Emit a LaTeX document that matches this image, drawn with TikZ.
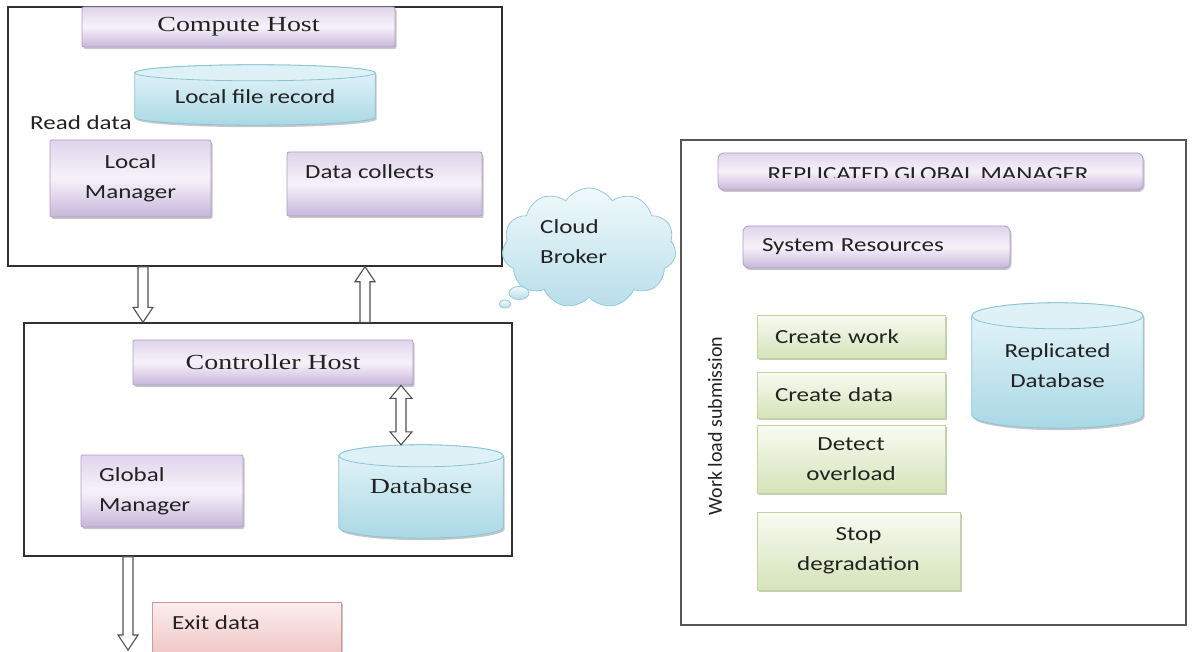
\documentclass[tikz,border=0pt]{standalone}
\usepackage{fontspec}
\setmainfont{Carlito}
\setsansfont{Carlito}[FakeStretch=1.25]
\newfontfamily\titlefont{Liberation Serif}[FakeStretch=1.3]
\newfontfamily\uprightsans{Carlito}
\usetikzlibrary{shapes.geometric,shapes.symbols,shadows,calc}

\definecolor{inkc}{HTML}{222222}
\definecolor{purpTop}{HTML}{E0D5EC}
\definecolor{purpMid}{HTML}{F6F2F9}
\definecolor{purpBot}{HTML}{C8B6DB}
\definecolor{purpLine}{HTML}{B09CC6}
\definecolor{greenTop}{HTML}{F8FBF2}
\definecolor{greenBot}{HTML}{D5E3B9}
\definecolor{greenLine}{HTML}{C2D59A}
\definecolor{pinkTop}{HTML}{FCEEEE}
\definecolor{pinkBot}{HTML}{EFC0C0}
\definecolor{pinkLine}{HTML}{D59898}
\definecolor{cylCap}{HTML}{DDF1F6}
\definecolor{cylBodyTop}{HTML}{E8F6FA}
\definecolor{cylBodyBot}{HTML}{A9D8E5}
\definecolor{cylLine}{HTML}{88C4D6}
\definecolor{cloudTop}{HTML}{F0F9FC}
\definecolor{cloudBot}{HTML}{B8DEEA}
\definecolor{cloudLine}{HTML}{93C9DA}
\definecolor{frameLine}{HTML}{303030}
\definecolor{panelLine}{HTML}{555555}
\definecolor{arrowLine}{HTML}{505050}

% hollow block arrow with one head at the end point
\newcommand\blockarrow[2]{%
  \draw[hollow] let \p1=(#1), \p2=(#2), \n1={sign(\y2-\y1)} in
    (\x1-5pt,\y1) -- (\x1-5pt,{\y2-\n1*15pt}) -- (\x1-10pt,{\y2-\n1*15pt})
    -- (\x1,\y2) -- (\x1+10pt,{\y2-\n1*15pt}) -- (\x1+5pt,{\y2-\n1*15pt})
    -- (\x1+5pt,\y1) -- cycle;}
% hollow block arrow with heads at both ends
\newcommand\twowayarrow[2]{%
  \draw[hollow] let \p1=(#1), \p2=(#2), \n1={sign(\y2-\y1)} in
    (\x1,\y1) -- (\x1+11pt,{\y1+\n1*13pt}) -- (\x1+5pt,{\y1+\n1*13pt})
    -- (\x1+5pt,{\y2-\n1*13pt}) -- (\x1+11pt,{\y2-\n1*13pt}) -- (\x1,\y2)
    -- (\x1-11pt,{\y2-\n1*13pt}) -- (\x1-5pt,{\y2-\n1*13pt})
    -- (\x1-5pt,{\y1+\n1*13pt}) -- (\x1-11pt,{\y1+\n1*13pt}) -- cycle;}
% standing cylinder filling the frame of node #1, with end caps of half height #2
\newcommand\drumshape[2]{%
  \path[cylbody] let \p1=(#1.north west), \p2=(#1.south east) in
    (\x1,\y1-#2) -- (\x1,\y2+#2)
    arc[start angle=180, end angle=360, x radius={(\x2-\x1)/2}, y radius=#2]
    -- (\x2,\y1-#2)
    arc[start angle=0, end angle=180, x radius={(\x2-\x1)/2}, y radius=#2]
    -- cycle;
  \path[draw=cylLine, line width=0.8pt, fill=cylCap] let \p1=(#1.north west), \p2=(#1.north east) in
    ($(\p1)!0.5!(\p2)+(0pt,-#2)$) ellipse [x radius={(\x2-\x1)/2}, y radius=#2];}

\begin{document}
\begin{tikzpicture}[x=1pt,y=-1pt,
  txt/.style={inner sep=0pt, text=inkc, font=\sffamily\fontsize{20}{30}\selectfont},
  titletext/.style={font=\titlefont\fontsize{21.5}{26}\selectfont},
  frame/.style={draw=frameLine, line width=1.4pt, fill=white, inner sep=0pt},
  panel/.style={draw=panelLine, line width=1.2pt, fill=white, inner sep=0pt},
  softshadow/.style={drop shadow={shadow xshift=1.5pt, shadow yshift=-2pt, opacity=0.22, fill=black}},
  purplebox/.style={txt, draw=purpLine, line width=0.8pt, top color=purpTop,
    bottom color=purpBot, middle color=purpMid, rounded corners=2pt, softshadow},
  greenbox/.style={txt, draw=greenLine, line width=0.8pt, top color=greenTop,
    bottom color=greenBot, softshadow},
  pinkbox/.style={txt, draw=pinkLine, line width=0.8pt, top color=pinkTop,
    bottom color=pinkBot, softshadow},
  drumframe/.style={inner sep=0pt},
  cylbody/.style={draw=cylLine, line width=0.8pt, top color=cylBodyTop,
    bottom color=cylBodyBot, softshadow},
  cloudshape/.style={cloud, cloud puffs=11, cloud puff arc=115, draw=cloudLine,
    line width=0.8pt, top color=cloudTop, bottom color=cloudBot, inner sep=0pt},
  bubble/.style={ellipse, draw=cloudLine, line width=0.8pt, top color=cloudTop,
    bottom color=cloudBot, inner sep=0pt},
  hollow/.style={draw=arrowLine, line width=1.1pt, fill=white, line join=miter}
]
\clip (0,0) rectangle (1193,652);
\fill[white] (0,0) rectangle (1193,652);

% ---------- compute host ----------
\node[frame, minimum width=494pt, minimum height=259pt] (compute) at (255,136.5) {};
\node[purplebox, titletext, minimum width=313pt, minimum height=40pt] (computeTitle) at (238.5,27) {Compute Host};
\node[drumframe, minimum width=240pt, minimum height=60pt] (localFile) at (255,95) {};
\drumshape{localFile}{8pt}
\node[txt] (localFileText) at (255,97) {Local file record};
\node[txt, anchor=west] (readData) at (30,123) {Read data};
\node[purplebox, minimum width=161pt, minimum height=77pt, align=center] (localMgr) at (130.5,178.5) {Local\\Manager};
\node[purplebox, minimum width=195pt, minimum height=64pt] (dataCol) at (384.5,184) {};
\node[txt, anchor=west] (dataColText) at (305,172) {Data collects};

% ---------- controller host ----------
\node[frame, minimum width=488pt, minimum height=233pt] (ctrl) at (268,439.5) {};
\node[purplebox, titletext, minimum width=280pt, minimum height=45pt] (ctrlTitle) at (273,362.5) {Controller Host};
\node[drumframe, minimum width=164pt, minimum height=93pt] (db) at (421,491.5) {};
\drumshape{db}{11pt}
\node[txt, titletext] (dbText) at (421,486) {Database};
\node[purplebox, minimum width=162pt, minimum height=72pt, text width=126pt, align=left] (globalMgr) at (162,491) {Global\\Manager};

\node[pinkbox, minimum width=189pt, minimum height=60pt] (exitBox) at (246.5,632) {};
\node[txt, anchor=west] (exitText) at (172,623) {Exit data};

% ---------- block arrows ----------
\coordinate (downX) at (143,0);
\coordinate (upX) at (365,0);
\coordinate (dbX) at (401,0);
\coordinate (exitX) at (128,0);
\coordinate (exitEnd) at (128,650);
\blockarrow{compute.south -| downX}{ctrl.north -| downX}
\blockarrow{ctrl.north -| upX}{compute.south -| upX}
\twowayarrow{ctrlTitle.south -| dbX}{db.north -| dbX}
\blockarrow{ctrl.south -| exitX}{exitEnd}

% ---------- cloud broker ----------
\node[cloudshape, minimum width=174pt, minimum height=120pt] (broker) at (589,248) {};
\node[bubble, minimum width=20pt, minimum height=13pt] (bubbleA) at (519,293) {};
\node[bubble, minimum width=12pt, minimum height=8pt] (bubbleB) at (505,304) {};
\node[txt, anchor=west, align=left] (brokerText) at (540,241.5) {Cloud\\Broker};

% ---------- replicated global manager ----------
\node[panel, minimum width=505pt, minimum height=485pt] (replica) at (933.5,382.5) {};
\node[purplebox, rounded corners=6pt, minimum width=425pt, minimum height=37pt] (rgm) at (930.5,171.5) {};
\begin{scope}
  \clip (720,150) rectangle (1140,178);
  \node[txt, anchor=base] (rgmText) at (928,181) {REPLICATED GLOBAL MANAGER};
\end{scope}
\node[purplebox, rounded corners=6pt, minimum width=267pt, minimum height=42pt, text width=229pt, align=left] (sysRes) at (876.5,247) {System Resources};
\node[txt, rotate=90, font=\uprightsans\fontsize{20}{24}\selectfont] (workload) at (715,426) {Work load submission};
\node[greenbox, minimum width=188pt, minimum height=43pt, text width=152pt, align=left] (createWork) at (851,336.5) {Create work};
\node[greenbox, minimum width=188pt, minimum height=46pt, text width=152pt, align=left] (createData) at (851,395) {Create data};
\node[greenbox, minimum width=188pt, minimum height=68pt, align=center] (detect) at (851,459) {Detect\\overload};
\node[greenbox, minimum width=203pt, minimum height=78pt, align=center] (stopDeg) at (858.5,551) {Stop\\degradation};
\node[drumframe, minimum width=171pt, minimum height=125pt] (repDb) at (1057.5,365.5) {};
\drumshape{repDb}{13pt}
\node[txt, align=center] (repDbText) at (1057.5,366) {Replicated\\Database};
\end{tikzpicture}
\end{document}
